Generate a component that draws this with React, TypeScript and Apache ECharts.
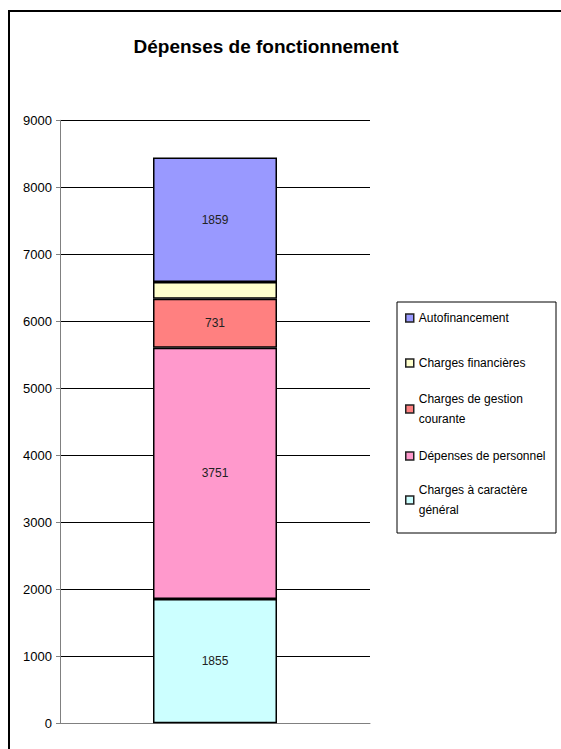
import React, { useEffect, useRef } from "react";
import * as echarts from "echarts";

const categories = [""];
const seriesNames = [
  "Charges à caractère général",
  "Dépenses de personnel",
  "Charges de gestion courante",
  "Charges financières",
  "Autofinancement",
];
const chargesGeneral = [1855];
const depensesPersonnel = [3751];
const chargesGestion = [731];
const chargesFinancieres = [250];
const autofinancement = [1859];
const seriesValues = [chargesGeneral, depensesPersonnel, chargesGestion, chargesFinancieres, autofinancement];
const seriesColors = ["#CCFFFF", "#FF99CC", "#FF8080", "#FFFFCC", "#9999FF"];
const showLabels = [true, true, true, false, true];
const titleText = "Dépenses de fonctionnement";

const FONT = "'Liberation Sans', Arial, sans-serif";

export default function App() {
  const ref = useRef<HTMLDivElement>(null);
  useEffect(() => {
    document.body.style.margin = "0";
    const chart = echarts.init(ref.current!, undefined, { renderer: "svg" });

    const legendItems: [string, number, string | null][] = [
      ["Autofinancement", 318, null],
      ["Charges financières", 363, null],
      ["Charges de gestion courante", 409, "Charges de gestion\ncourante"],
      ["Dépenses de personnel", 456, null],
      ["Charges à caractère général", 500, "Charges à caractère\ngénéral"],
    ];
    const LH = 20;
    const legends = legendItems.map(([name, cy, wrapped]) => ({
      orient: "vertical",
      left: 405,
      top: wrapped ? cy - (3 * LH) / 2 : cy - LH / 2,
      padding: 0,
      itemWidth: 8,
      itemHeight: 8,
      itemGap: 0,
      icon: "rect",
      selectedMode: false,
      data: [
        {
          name,
          icon: "rect",
          itemStyle: {
            color: seriesColors[seriesNames.indexOf(name)],
            borderColor: "#222",
            borderWidth: 1.5,
          },
        },
      ],
      formatter: () => (wrapped ? wrapped : name),
      itemStyle: { borderColor: "#222", borderWidth: 1.5 },
      textStyle: {
        fontFamily: FONT,
        fontSize: 12,
        color: "#000",
        lineHeight: LH,
        padding: wrapped ? [LH, 0, 0, 0] : 0,
      },
    }));

    chart.setOption({
      animation: false,
      backgroundColor: "#fff",
      graphic: [
        {
          type: "rect",
          shape: { x: 9, y: 11, width: 700, height: 900 },
          style: { fill: "none", stroke: "#000", lineWidth: 2 },
          silent: true,
        },
        {
          type: "rect",
          shape: { x: 397, y: 302, width: 159, height: 231 },
          style: { fill: "none", stroke: "#000", lineWidth: 1 },
          silent: true,
        },
        {
          type: "text",
          x: 266,
          y: 46,
          style: {
            text: titleText,
            fontFamily: FONT,
            fontSize: 19,
            fontWeight: "bold",
            fill: "#000",
            align: "center",
            verticalAlign: "middle",
          },
        },
      ],
      legend: legends,
      grid: { left: 60, right: 191, top: 120.3, bottom: 25.7, containLabel: false },
      xAxis: {
        type: "category",
        data: categories,
        axisLine: { lineStyle: { color: "#808080", width: 1 } },
        axisTick: { show: false },
        axisLabel: { show: false },
      },
      yAxis: {
        type: "value",
        min: 0,
        max: 9000,
        interval: 1000,
        axisLine: { show: true, lineStyle: { color: "#808080", width: 1 } },
        axisTick: { show: true, length: 4, lineStyle: { color: "#808080" } },
        axisLabel: {
          fontFamily: FONT,
          fontSize: 13,
          color: "#000",
          margin: 8,
          formatter: (v: number) => String(v),
        },
        splitLine: { lineStyle: { color: "#000", width: 1 } },
      },
      series: seriesNames.map((name, i) => ({
        name,
        type: "bar",
        stack: "total",
        barWidth: "40%",
        data: seriesValues[i],
        itemStyle: { color: seriesColors[i], borderColor: "#000", borderWidth: 1.5 },
        label: {
          show: showLabels[i],
          position: "inside",
          fontFamily: FONT,
          fontSize: 12,
          color: "#222",
        },
      })),
    });
    return () => chart.dispose();
  }, []);
  return <div ref={ref} style={{ position: "absolute", left: 0, top: 0, width: 561, height: 749 }} />;
}
